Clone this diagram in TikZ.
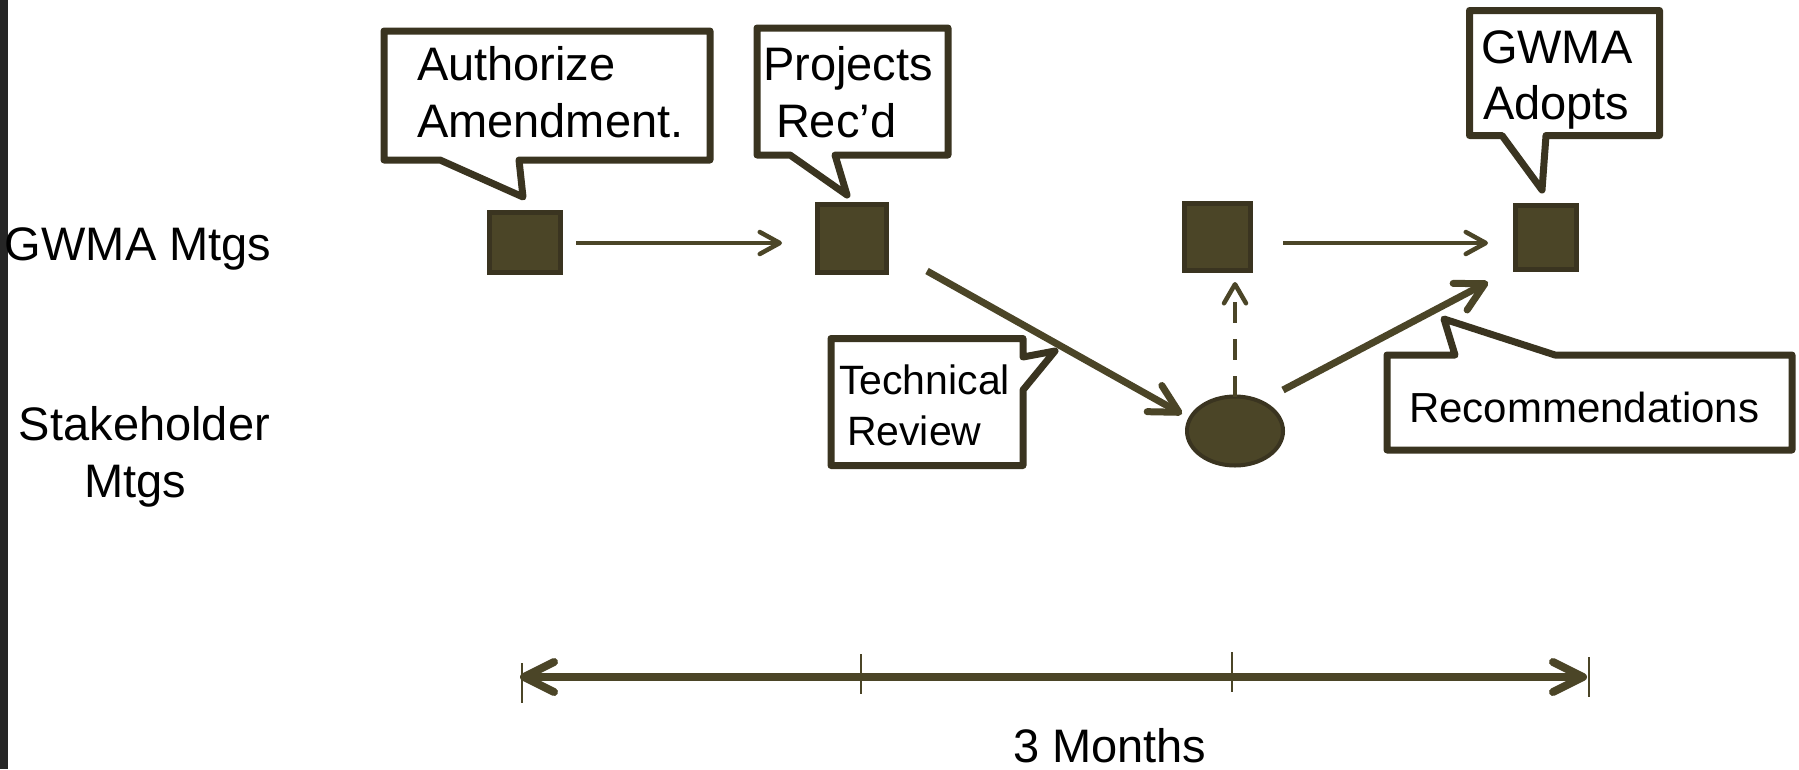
\documentclass[tikz,border=0pt]{standalone}
\usepackage{fontspec}
\setmainfont{Liberation Sans}
\usetikzlibrary{arrows.meta,shapes.geometric}
\definecolor{olive}{HTML}{4B4527}
\definecolor{olivedark}{HTML}{3A3420}
\definecolor{barc}{HTML}{262626}
\begin{document}
\begin{tikzpicture}[x=1pt,y=-1pt,
  sq/.style={draw=olivedark,fill=olive,line width=5pt,inner sep=0pt,outer sep=0pt,rectangle},
  callout/.style={draw=olivedark,fill=white,line width=7pt,line join=round},
  lbl/.style={inner sep=0pt,outer sep=0pt,anchor=base west,font=\fontsize{47}{56}\selectfont},
  smalllbl/.style={inner sep=0pt,outer sep=0pt,anchor=base west,font=\fontsize{41}{50}\selectfont},
  thinarr/.style={draw=olive,line width=4.5pt,-{Straight Barb[length=20pt,width=22pt,round]}},
  thickarr/.style={draw=olive,line width=7pt,-{Straight Barb[length=28pt,width=30pt,round]}},
  dasharr/.style={draw=olive,line width=4.5pt,dash pattern=on 21pt off 16pt,-{Straight Barb[length=19pt,width=22pt,round]}},
  timeline/.style={draw=olive,line width=8pt,{Straight Barb[length=30pt,width=30pt,round]}-{Straight Barb[length=30pt,width=30pt,round]}},
  tick/.style={draw=olive,line width=1.5pt}
]
\useasboundingbox (0,0) rectangle (1799,769);
\fill[white] (0,0) rectangle (1799,769);
\fill[barc] (0,0) rectangle (7.5,769);

% row labels
\node[lbl] (gwmamtgs) at (5,260) {GWMA Mtgs};
\node[lbl] (stake1) at (19,440) {Stakeholder};
\node[lbl] (stake2) at (84,497) {Mtgs};

% callouts
\draw[callout] (384,31) -- (710,31) -- (710,160) -- (519,160) -- (523,197) -- (440,160) -- (384,160) -- cycle;
\node[lbl] (auth1) at (417,80) {Authorize};
\node[lbl] (auth2) at (417,137) {Amendment.};

\draw[callout] (757,28) -- (948,28) -- (948,155) -- (835,155) -- (847,195) -- (790,155) -- (757,155) -- cycle;
\node[lbl] (proj1) at (763,80) {Projects};
\node[lbl] (proj2) at (776,137) {Rec’d};

\draw[callout] (1469.5,10.5) -- (1659.5,10.5) -- (1659.5,135.5) -- (1546,135.5) -- (1542,190) -- (1502,135.5) -- (1469.5,135.5) -- cycle;
\node[lbl] (adopt1) at (1481,63) {GWMA};
\node[lbl] (adopt2) at (1483,119) {Adopts};

\draw[callout] (831,338.5) -- (1023,338.5) -- (1023,357) -- (1055,351) -- (1023,390) -- (1023,465.5) -- (831,465.5) -- cycle;
\node[smalllbl] (tech1) at (839,394) {Technical};
\node[smalllbl] (tech2) at (847,445) {Review};

\draw[callout] (1387,355) -- (1455,355) -- (1444,319) -- (1555,355) -- (1792,355) -- (1792,450) -- (1387,450) -- cycle;
\node[inner sep=0pt,outer sep=0pt,anchor=base west,font=\fontsize{42}{50}\selectfont] (rec) at (1409,422) {Recommendations};

% meeting markers
\node[sq,minimum width=71pt,minimum height=60pt] (sq1) at (525,242.5) {};
\node[sq,minimum width=69pt,minimum height=68pt] (sq2) at (852,238.5) {};
\node[sq,minimum width=66pt,minimum height=67pt] (sq3) at (1217.5,237) {};
\node[sq,minimum width=61pt,minimum height=64pt] (sq4) at (1546,237.5) {};
\node[ellipse,draw=olivedark,fill=olive,line width=4pt,inner sep=0pt,outer sep=0pt,minimum width=96pt,minimum height=69pt] (ell) at (1235,431) {};

% connectors
\draw[thinarr] ([shift={(15.5,0.5)}]sq1.east) -- ([shift={(-35.5,4.5)}]sq2.west);
\draw[thinarr] ([shift={(32.5,6)}]sq3.east) -- ([shift={(-27.5,5.5)}]sq4.west);
\draw[thickarr] ([shift={(40.5,-1.5)}]sq2.south east) -- ([shift={(-53,-17)}]ell.center);
\draw[thickarr] ([shift={(48,-41)}]ell.center) -- ([shift={(-27.5,12.5)}]sq4.south west);
\draw[dasharr] (ell.north) -- ([shift={(0,-114.5)}]ell.north);

% timeline
\coordinate (tl) at (520,677);
\coordinate (tr) at (1587,677);
\draw[timeline] (tl) -- (tr);
\draw[tick] (522,663) -- (522,703);
\draw[tick] (861,654) -- (861,694);
\draw[tick] (1232,652) -- (1232,692);
\draw[tick] (1589,657) -- (1589,697);
\node[lbl,text depth=0pt] (months) at (1013,762) {3 Months};
\end{tikzpicture}
\end{document}
